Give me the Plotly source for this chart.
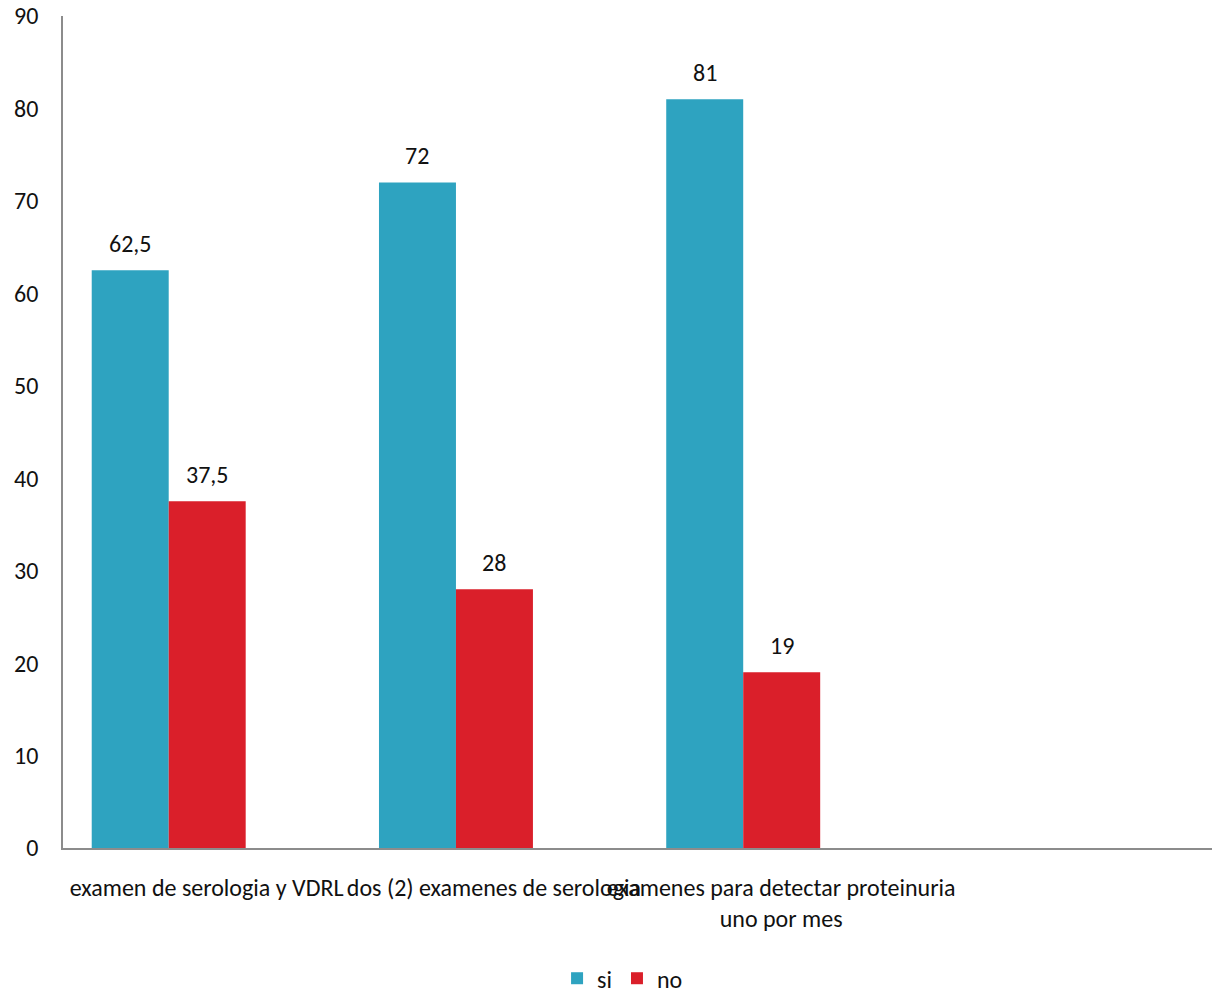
import plotly.graph_objects as go

categories = ["examen de serologia y VDRL", "dos (2) examenes de serologia",
              "examenes para detectar proteinuria<br>uno por mes"]
si_values = [62.5, 72, 81]
no_values = [37.5, 28, 19]
series_names = ["si", "no"]
colors = ["#2EA3C0", "#DA1F2A"]

FONT = "Carlito, Calibri, Lato, sans-serif"
FS = 24
x_idx = list(range(len(categories)))
bar_w = 0.268
offsets = [-0.40, -0.132]

def fmt(v):
    return (f"{v:g}").replace(".", ",")

fig = go.Figure()
for name, vals, col, off in zip(series_names, [si_values, no_values], colors, offsets):
    fig.add_trace(go.Bar(x=x_idx, y=vals, name=name, marker=dict(color=col, line=dict(width=0)),
                         width=bar_w, offset=off))
    for xi, v in zip(x_idx, vals):
        fig.add_annotation(x=xi + off + bar_w / 2, y=v, text=fmt(v), showarrow=False,
                           yanchor="middle", yshift=27, font=dict(size=FS, color="#111111", family=FONT))

fig.update_layout(
    width=1220, height=995,
    margin=dict(l=63, r=8, t=16, b=147, autoexpand=False),
    paper_bgcolor="white", plot_bgcolor="white",
    font=dict(family=FONT, size=FS, color="#111111"),
    barmode="overlay",
    showlegend=True,
    legend=dict(orientation="h", x=0.487, xanchor="center", y=-0.157, yanchor="middle",
                font=dict(size=FS), itemwidth=30, traceorder="normal",
                tracegroupgap=0, borderwidth=0),
)
fig.update_xaxes(range=[-0.5, 3.5], tickmode="array", tickvals=x_idx, ticktext=categories,
                 tickangle=0, showline=True, linecolor="#8C8C8C", linewidth=1.5,
                 ticks="outside", ticklen=17, tickcolor="rgba(0,0,0,0)", showgrid=False,
                 zeroline=False, automargin=False)
fig.update_yaxes(range=[0, 90], dtick=10, showline=True, linecolor="#8C8C8C", linewidth=1.5,
                 ticks="outside", ticklen=18, tickcolor="rgba(0,0,0,0)", showgrid=False,
                 zeroline=False, automargin=False)

fig.write_html("out.html")
